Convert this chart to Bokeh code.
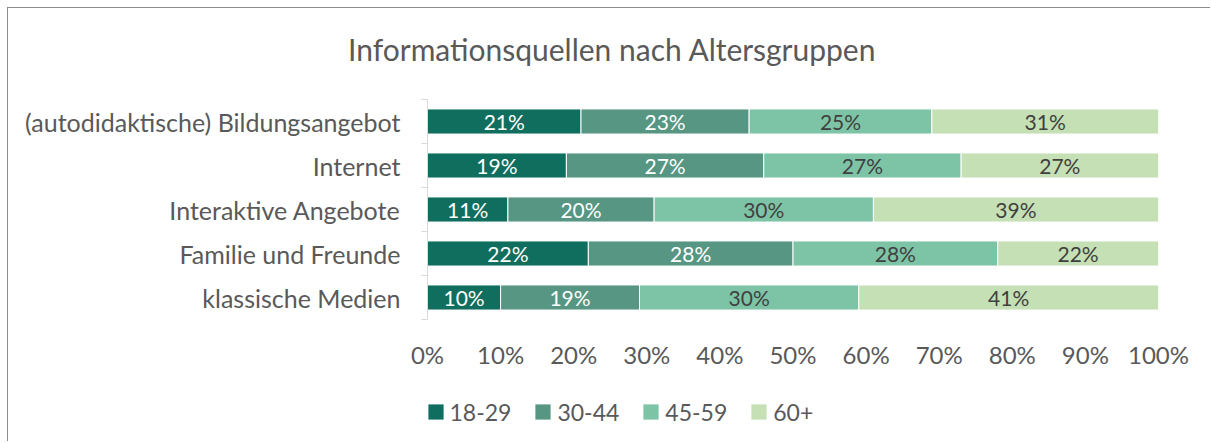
from bokeh.plotting import figure
from bokeh.models import (ColumnDataSource, Range1d, FixedTicker, Legend, LegendItem,
                          Title, LabelSet, NumeralTickFormatter, Spacer)
from bokeh.layouts import column, row
from bokeh.core.properties import value
from bokeh.embed import file_html
from bokeh.resources import INLINE

categories = ["(autodidaktische) Bildungsangebot", "Internet", "Interaktive Angebote",
              "Familie und Freunde", "klassische Medien"]
groups = ["18-29", "30-44", "45-59", "60+"]
v_18_29 = [21, 19, 11, 22, 10]
v_30_44 = [23, 27, 20, 28, 19]
v_45_59 = [25, 27, 30, 28, 30]
v_60p = [31, 27, 39, 22, 41]
colors = ["#106E5E", "#569682", "#7DC4A6", "#C5E0B4"]
label_colors = ["#FFFFFF", "#FFFFFF", "#404040", "#404040"]
title_text = "Informationsquellen nach Altersgruppen"
x_ticks = [0, 0.1, 0.2, 0.3, 0.4, 0.5, 0.6, 0.7, 0.8, 0.9, 1.0]

FONT = "Lato"
GRAY = "#595959"
BORDER = "1.5px solid #8c8c8c"

series = [v_18_29, v_30_44, v_45_59, v_60p]
n = len(categories)
ypos = list(range(1, n + 1))

p = figure(width=1203, height=382, output_backend="svg", toolbar_location=None,
           x_range=Range1d(0, 1), y_range=Range1d(n + 0.5, 0.5),
           min_border_left=419, min_border_right=53, min_border_top=91,
           min_border_bottom=71)
p.styles = {"border-top": BORDER, "border-left": BORDER}
p.outline_line_color = None
p.grid.visible = False
p.background_fill_color = "white"
p.border_fill_color = "white"

# gap between chart and title (inner "above" panel), then the title itself
p.add_layout(Title(text=" ", text_font_size="10px", standoff=20), "above")
p.title.text = title_text
p.title.align = "left"
p.title.offset = -79.5
p.title.standoff = 0
p.title.text_font = FONT
p.title.text_font_size = "30px"
p.title.text_font_style = "normal"
p.title.text_color = GRAY

left = [0.0] * n
for i, (g, vals) in enumerate(zip(groups, series)):
    frac = [v / 100 for v in vals]
    right = [l + f for l, f in zip(left, frac)]
    src = ColumnDataSource(dict(y=ypos, left=left, right=right,
                                mid=[(l + r) / 2 for l, r in zip(left, right)],
                                txt=[f"{v}%" for v in vals]))
    p.hbar(y="y", left="left", right="right", height=0.57, source=src,
           fill_color=colors[i], line_color="white", line_width=1)
    p.add_layout(LabelSet(x="mid", y="y", text="txt", source=src,
                          text_align="center", text_baseline="middle",
                          text_font=value(FONT), text_font_size="21px",
                          text_color=label_colors[i]))
    left = right

# y axis
p.yaxis.bounds = (0.5, n + 0.5)
p.yaxis.ticker = FixedTicker(ticks=ypos, minor_ticks=[y - 0.5 for y in ypos] + [n + 0.5])
p.yaxis.major_label_overrides = {y: c for y, c in zip(ypos, categories)}
p.yaxis.major_tick_out = 0
p.yaxis.major_tick_in = 0
p.yaxis.minor_tick_out = 6
p.yaxis.minor_tick_in = 0
p.yaxis.minor_tick_line_color = "#D9D9D9"
p.yaxis.axis_line_color = "#D9D9D9"
p.yaxis.major_label_standoff = 21
p.yaxis.major_label_text_font = FONT
p.yaxis.major_label_text_font_size = "25px"
p.yaxis.major_label_text_color = GRAY

# x axis
p.xaxis.ticker = FixedTicker(ticks=x_ticks)
p.xaxis.formatter = NumeralTickFormatter(format="0%")
p.xaxis.axis_line_color = None
p.xaxis.major_tick_line_color = None
p.xaxis.minor_tick_line_color = None
p.xaxis.major_label_standoff = 14
p.xaxis.major_label_text_font = FONT
p.xaxis.major_label_text_font_size = "24px"
p.xaxis.major_label_text_color = GRAY

# legend in its own strip below the chart (its frame lines up with the chart's frame)
p2 = figure(width=1203, height=52, output_backend="svg", toolbar_location=None,
            x_range=Range1d(0, 1), y_range=Range1d(0, 1),
            x_axis_location=None, y_axis_location=None, min_border=0)
p2.styles = {"border-left": BORDER}
p2.outline_line_color = None
p2.grid.visible = False
p2.border_fill_color = "white"
items = []
for g, c in zip(groups, colors):
    r = p2.quad(left=[0], right=[0], top=[0], bottom=[0], fill_color=c, line_color=None)
    items.append(LegendItem(label=g, renderers=[r]))
legend = Legend(items=items, orientation="horizontal", location=(-1.5, 15.5),
                glyph_width=19, glyph_height=19, label_standoff=5, spacing=22,
                padding=0, margin=0, border_line_color=None,
                background_fill_alpha=0,
                label_text_font=FONT, label_text_font_size="23px",
                label_text_color=GRAY)
p2.add_layout(legend, "center")

layout = column(Spacer(width=1, height=7), row(Spacer(width=7, height=1), column(p, p2)))
open("out.html", "w").write(file_html(layout, INLINE))
